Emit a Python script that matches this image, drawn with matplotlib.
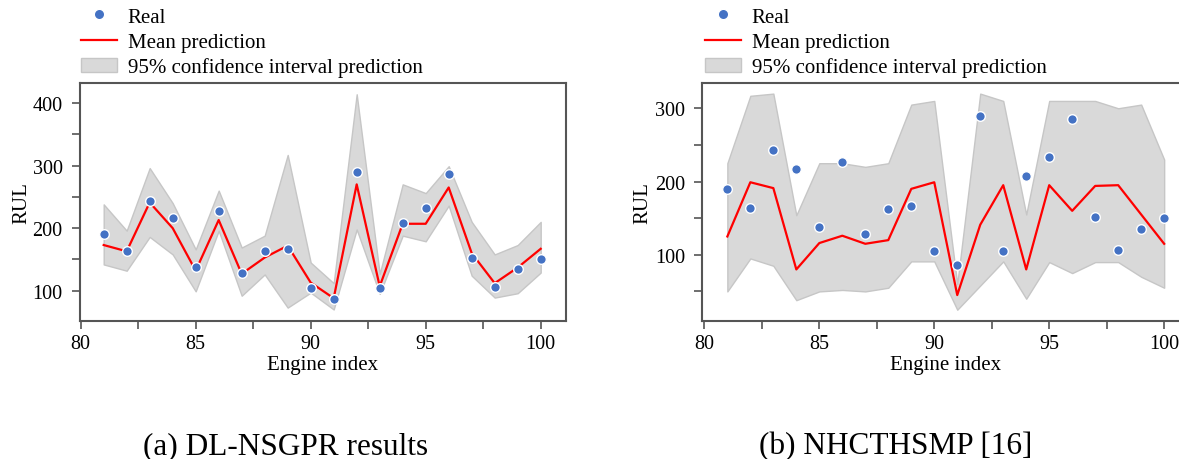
import matplotlib
matplotlib.use("Agg")
import matplotlib.pyplot as plt
from matplotlib.ticker import MultipleLocator, FuncFormatter
from matplotlib.lines import Line2D
from matplotlib.patches import Patch

engines = list(range(81, 101))
real = [190, 164, 243, 217, 138, 227, 128, 163, 167, 105,
        86, 290, 105, 208, 233, 286, 152, 106, 135, 150]

# (a) DL-NSGPR
a_mean = [173, 163, 241, 200, 132, 213, 127, 153, 172, 113,
          88, 270, 107, 207, 207, 265, 160, 112, 137, 167]
a_upper = [238, 196, 296, 240, 166, 260, 169, 188, 317, 145,
           112, 414, 127, 270, 256, 299, 210, 158, 173, 210]
a_lower = [142, 132, 186, 158, 99, 196, 92, 126, 73, 97,
           70, 198, 95, 188, 179, 236, 124, 89, 96, 129]

# (b) NHCTHSMP [16]
b_mean = [125, 199, 191, 80, 116, 126, 115, 120, 190, 199,
          45, 141, 195, 80, 195, 160, 194, 195, 155, 115]
b_upper = [225, 317, 320, 154, 225, 225, 220, 225, 305, 310,
           60, 320, 310, 155, 310, 310, 310, 300, 305, 230]
b_lower = [50, 95, 85, 38, 50, 52, 50, 55, 91, 91,
           25, 58, 91, 40, 90, 75, 90, 90, 70, 55]

captions = ["(a) DL-NSGPR results", "(b) NHCTHSMP [16]"]
legend_labels = ["Real", "Mean prediction", "95% confidence interval prediction"]

plt.rcParams['font.family'] = ['Liberation Serif', 'DejaVu Serif']

W, H = 1179, 460
fig = plt.figure(figsize=(W / 100, H / 100), dpi=100)

spine_col = "#555555"
dot_col = "#4472C4"
fill_col = "#d9d9d9"
edge_col = "#c6c6c6"

panels = [
    dict(x0=80, mean=a_mean, up=a_upper, lo=a_lower, xlim=(79.97, 101.1), ylim=(51.6, 432),
         cap_x=286, leg_x=81, ylab_x=31),
    dict(x0=702.3, mean=b_mean, up=b_upper, lo=b_lower, xlim=(79.91, 101.05), ylim=(9.6, 334.5),
         cap_x=896, leg_x=705, ylab_x=652),
]

ax_w = 486
top, bottom = 84, 322

for p, cap in zip(panels, captions):
    ax = fig.add_axes([p['x0'] / W, 1 - bottom / H, ax_w / W, (bottom - top) / H])
    ax.fill_between(engines, p['lo'], p['up'], facecolor=fill_col, edgecolor=edge_col,
                    linewidth=1.0, zorder=1)
    ax.plot(engines, p['mean'], color="red", linewidth=1.6, zorder=2)
    ax.scatter(engines, real, s=48, color=dot_col, edgecolors="white", linewidths=1.0, zorder=3)
    ax.set_xlim(*p['xlim'])
    ax.set_ylim(*p['ylim'])
    ax.xaxis.set_major_locator(MultipleLocator(2.5))
    ax.yaxis.set_major_locator(MultipleLocator(50))
    ax.xaxis.set_major_formatter(FuncFormatter(lambda v, pos: f"{int(round(v))}" if abs(v % 5) < 1e-6 else ""))
    ax.yaxis.set_major_formatter(FuncFormatter(lambda v, pos: f"{int(round(v))}" if abs(v % 100) < 1e-6 else ""))
    for s in ax.spines.values():
        s.set_color(spine_col)
        s.set_linewidth(1.5)
    ax.tick_params(direction='out', length=5.5, width=1.2, color=spine_col, labelsize=14.5)
    ax.tick_params(axis='y', pad=7)
    ax.tick_params(axis='x', pad=4)
    ax.set_xlabel("Engine index", fontsize=15, labelpad=1)
    ax.set_ylabel("RUL", fontsize=15)
    ax.yaxis.set_label_coords((p['ylab_x'] - p['x0']) / ax_w, 0.5)

    handles = [
        Line2D([], [], linestyle='none', marker='o', markersize=7.5, markerfacecolor=dot_col,
               markeredgecolor='white', markeredgewidth=1.0),
        Line2D([], [], color='red', linewidth=1.6),
        Patch(facecolor=fill_col, edgecolor=edge_col, linewidth=1.0),
    ]
    fig.legend(handles, legend_labels, loc='upper left',
               bbox_to_anchor=(p['leg_x'] / W, 1 - 8 / H), frameon=False,
               fontsize=15, handlelength=1.75, handletextpad=0.5, labelspacing=0.27,
               borderpad=0, borderaxespad=0)

    fig.text(p['cap_x'] / W, 1 - 447 / H, cap, fontsize=22.5, ha='center', va='center')

fig.savefig("out.png", dpi=100)
